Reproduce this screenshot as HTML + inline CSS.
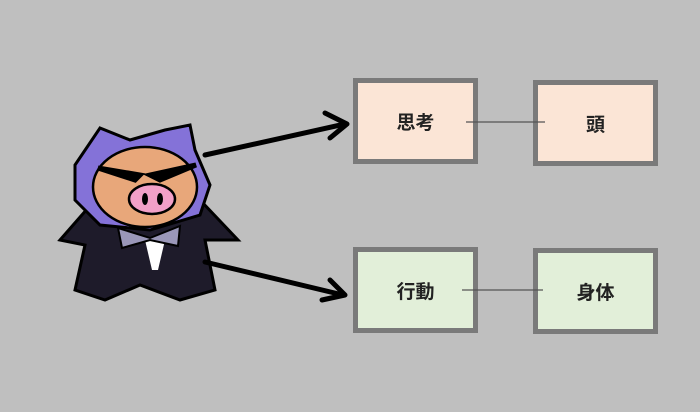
<!DOCTYPE html>
<html><head><meta charset="utf-8"><style>
body{margin:0;width:700px;height:412px;background:#bfbfbf;overflow:hidden;position:relative;font-family:"Liberation Sans","Noto Sans CJK JP",sans-serif}
.b{position:absolute;width:115px;height:76px;border:5px solid #7a7a7a;display:flex;align-items:center;justify-content:center;font-size:19px;font-weight:bold;color:#222}
.p{background:#fbe5d6}.g{background:#e2efd9}
</style></head><body>
<svg width="700" height="412" style="position:absolute;left:0;top:0">
<!-- body -->
<path d="M60,240 L95,200 L200,200 L238,240 L205,240 L215,290 L180,300 L140,285 L105,300 L75,290 L85,245 Z" fill="#1e1b2a" stroke="#000" stroke-width="3"/>
<path d="M145,240 L165,240 L158,270 L152,270 Z" fill="#fff"/>
<path d="M118,228 L150,238 L180,226 L178,246 L150,240 L122,248 Z" fill="#9a97b8" stroke="#000" stroke-width="2"/>
<!-- hood -->
<path d="M100,128 L130,140 L165,130 L190,125 L195,150 L210,185 L200,215 L150,230 L100,225 L75,200 L75,165 Z" fill="#8472d8" stroke="#000" stroke-width="3"/>
<ellipse cx="145" cy="187" rx="52" ry="40" fill="#e8a77a" stroke="#000" stroke-width="2.5"/>
<path d="M98,168 L135,180 L140,175 Z M150,175 L160,180 L196,165 Z" fill="#000" stroke="#000" stroke-width="5"/>
<ellipse cx="152" cy="199" rx="23" ry="15" fill="#f2a0c8" stroke="#000" stroke-width="2.5"/>
<ellipse cx="145" cy="199" rx="3" ry="6" fill="#000"/><ellipse cx="160" cy="199" rx="3" ry="6" fill="#000"/>
<!-- arrows -->
<g stroke="#000" stroke-width="5" fill="none" stroke-linecap="round" stroke-linejoin="round">
<line x1="205" y1="155" x2="345" y2="124"/>
<polyline points="325,113 347,124 330,138"/>
<line x1="205" y1="262" x2="343" y2="295"/>
<polyline points="330,280 345,295 322,300"/>
</g>
</svg>
<div class="b p" style="left:353px;top:78px">思考</div>
<div class="b p" style="left:533px;top:80px">頭</div>
<div class="b g" style="left:353px;top:247px">行動</div>
<div class="b g" style="left:533px;top:248px">身体</div>
<svg width="700" height="412" style="position:absolute;left:0;top:0">
<line x1="466" y1="122" x2="545" y2="122" stroke="#555" stroke-width="1.2"/>
<line x1="462" y1="290" x2="543" y2="290" stroke="#555" stroke-width="1.2"/>
</svg>
</body></html>
